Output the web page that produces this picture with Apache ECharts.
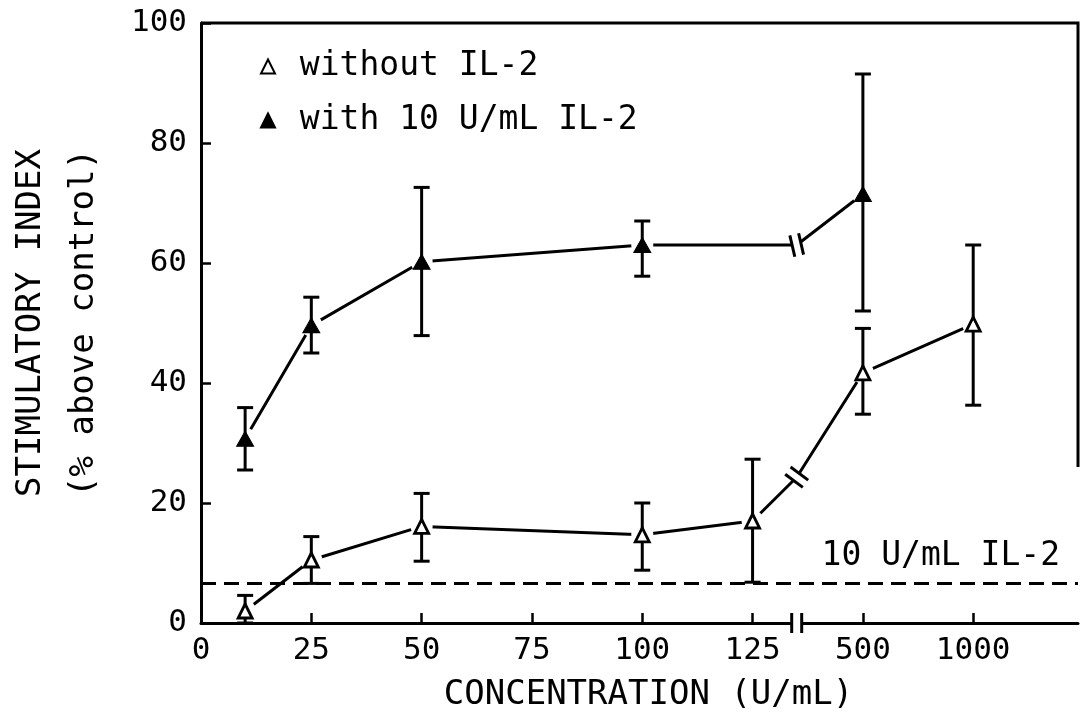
<!DOCTYPE html>
<html>
<head>
<meta charset="utf-8">
<script src="https://cdn.jsdelivr.net/npm/echarts@6/dist/echarts.min.js"></script>
<style>html,body{margin:0;padding:0;background:#fff;}#c{width:1080px;height:719px;}</style>
</head>
<body>
<div id="c"></div>
<script>
// ---- data ----
const tickLabels = ['0', '25', '50', '75', '100', '125', '500', '1000'];
// axis positions (tick index) of the tested concentrations 10,25,50,100,125,500,1000 U/mL
const openPos = [0.4, 1, 2, 4, 5, 6, 7];
const openMean = [2.0, 10.5, 16.1, 14.7, 17.0, 41.7, 49.8];
const openHigh = [4.6, 14.4, 21.6, 20.0, 27.3, 49.1, 63.0];
const openLow = [0, 6.6, 10.3, 8.8, 6.8, 34.8, 36.3];

// concentrations 10,25,50,100,500 U/mL
const filledPos = [0.4, 1, 2, 4, 6];
const filledMean = [30.7, 49.6, 60.2, 63.0, 71.5];
const filledHigh = [35.9, 54.3, 72.6, 67.0, 91.5];
const filledLow = [25.5, 45.0, 47.9, 57.8, 52.0];

// axis break (between 125 and 500) and the line vertices drawn at the break
const breakPos = 5.4;
const openBreakY = 24.3;
const filledBreakY = 63.0;

const il2OnlyLevel = 6.6; // 10 U/mL IL-2 alone
const xMax = 7.95;
const rightBorderEnd = 26;

// ---- build ----
const FONT = 'DejaVu Sans Mono';
const openLine = openPos.map((x, i) => [x, openMean[i]]);
openLine.splice(5, 0, [breakPos, openBreakY]);
const filledLine = filledPos.map((x, i) => [x, filledMean[i]]);
filledLine.splice(4, 0, [breakPos, filledBreakY]);

const openPts = openPos.map((x, i) => [x, openMean[i]]);
const filledPts = filledPos.map((x, i) => [x, filledMean[i]]);
const errData = openPos.map((x, i) => [x, openLow[i], openHigh[i]])
  .concat(filledPos.map((x, i) => [x, filledLow[i], filledHigh[i]]));

const lineBreaks = [
  { pt: [breakPos, openBreakY], prev: openPts[4], next: openPts[5] },
  { pt: [breakPos, filledBreakY], prev: filledPts[3], next: filledPts[4] }
];

const BLACK = '#000';
const LW = 3;
const chart = echarts.init(document.getElementById('c'), null, { renderer: 'canvas' });

function errRender(params, api) {
  const x = api.value(0), lo = api.value(1), hi = api.value(2);
  const a = api.coord([x, lo]), b = api.coord([x, hi]);
  const c = 8;
  const st = { stroke: BLACK, lineWidth: LW };
  return { type: 'group', children: [
    { type: 'line', shape: { x1: a[0], y1: a[1], x2: b[0], y2: b[1] }, style: st },
    { type: 'line', shape: { x1: b[0] - c, y1: b[1], x2: b[0] + c, y2: b[1] }, style: st },
    { type: 'line', shape: { x1: a[0] - c, y1: a[1], x2: a[0] + c, y2: a[1] }, style: st }
  ]};
}

function lineBreakRender(params, api) {
  const d = lineBreaks[params.dataIndex];
  const p = api.coord(d.pt), p0 = api.coord(d.prev), p1 = api.coord(d.next);
  let dx = p1[0] - p0[0], dy = p1[1] - p0[1];
  const L = Math.hypot(dx, dy); dx /= L; dy /= L;
  const nx = -dy, ny = dx;
  const g = 4.5, h = 11;
  const st = { stroke: BLACK, lineWidth: LW };
  return { type: 'group', children: [
    { type: 'polygon', shape: { points: [
      [p[0] - dx * g + nx * 4, p[1] - dy * g + ny * 4],
      [p[0] + dx * g + nx * 4, p[1] + dy * g + ny * 4],
      [p[0] + dx * g - nx * 4, p[1] + dy * g - ny * 4],
      [p[0] - dx * g - nx * 4, p[1] - dy * g - ny * 4]] }, style: { fill: '#fff' } },
    { type: 'line', shape: { x1: p[0] - dx * g - nx * h, y1: p[1] - dy * g - ny * h, x2: p[0] - dx * g + nx * h, y2: p[1] - dy * g + ny * h }, style: st },
    { type: 'line', shape: { x1: p[0] + dx * g - nx * h, y1: p[1] + dy * g - ny * h, x2: p[0] + dx * g + nx * h, y2: p[1] + dy * g + ny * h }, style: st }
  ]};
}

function axisBreakRender(params, api) {
  const p = api.coord([breakPos, 0]);
  const st = { stroke: BLACK, lineWidth: LW };
  return { type: 'group', children: [
    { type: 'rect', shape: { x: p[0] - 5, y: p[1] - 3, width: 10, height: 6 }, style: { fill: '#fff' } },
    { type: 'line', shape: { x1: p[0] - 5, y1: p[1] - 10, x2: p[0] - 5, y2: p[1] + 10 }, style: st },
    { type: 'line', shape: { x1: p[0] + 5, y1: p[1] - 10, x2: p[0] + 5, y2: p[1] + 10 }, style: st }
  ]};
}

function frameRender(params, api) {
  const a = api.coord([0, 100]), b = api.coord([xMax, 100]), c = api.coord([xMax, rightBorderEnd]);
  return { type: 'polyline', shape: { points: [a, b, c] }, style: { stroke: BLACK, lineWidth: 3, fill: null } };
}

const option = {
  animation: false,
  backgroundColor: '#fff',
  grid: { left: 201, right: 2, top: 23, bottom: 96, containLabel: false, outerBoundsMode: 'none' },
  legend: {
    orient: 'vertical', left: 255, top: 45,
    itemWidth: 14, itemHeight: 14, itemGap: 21,
    data: ['without IL-2', 'with 10 U/mL IL-2'],
    formatter: n => ' ' + n,
    textStyle: { fontFamily: FONT, fontSize: 33, lineHeight: 33, color: BLACK }
  },
  xAxis: {
    type: 'value', min: 0, max: xMax, interval: 1,
    name: 'CONCENTRATION (U/mL)', nameLocation: 'middle', nameGap: 55,
    nameTextStyle: { fontFamily: FONT, fontSize: 34, color: BLACK, padding: [0, 0, 0, 18] },
    axisLine: { lineStyle: { color: BLACK, width: 3 } },
    axisTick: { inside: true, length: 10, lineStyle: { color: BLACK, width: 2.5 }, customValues: [1, 2, 3, 4, 5, 6, 7] },
    axisLabel: { fontFamily: FONT, fontSize: 31, color: BLACK, margin: 12,
      customValues: [0, 1, 2, 3, 4, 5, 6, 7], formatter: v => tickLabels[Math.round(v)] },
    splitLine: { show: false }
  },
  yAxis: {
    type: 'value', min: 0, max: 100, interval: 20,
    name: 'STIMULATORY INDEX\n(% above control)', nameLocation: 'middle', nameGap: 90, nameRotate: 90,
    nameTextStyle: { fontFamily: FONT, fontSize: 34, lineHeight: 53, color: BLACK },
    axisLine: { show: true, lineStyle: { color: BLACK, width: 3 } },
    axisTick: { show: true, inside: true, length: 10, lineStyle: { color: BLACK, width: 2.5 } },
    axisLabel: { fontFamily: FONT, fontSize: 31, color: BLACK, margin: 14 },
    splitLine: { show: false }
  },
  series: [
    { type: 'custom', name: 'frame', renderItem: frameRender, data: [[0, 100]], clip: false, silent: true, z: 1 },
    { type: 'line', name: 'line-open', data: openLine, symbol: 'none', z: 2, silent: true,
      lineStyle: { color: BLACK, width: LW },
      markLine: { symbol: 'none', silent: true, data: [{ yAxis: il2OnlyLevel }],
        lineStyle: { type: [15, 8], color: BLACK, width: LW },
        label: { show: true, position: 'insideEndTop', formatter: '10 U/mL IL-2', distance: [18, 10],
          fontFamily: FONT, fontSize: 33, color: BLACK } } },
    { type: 'line', name: 'line-filled', data: filledLine, symbol: 'none', z: 2, silent: true,
      lineStyle: { color: BLACK, width: LW } },
    { type: 'scatter', name: 'halo', data: openPts.concat(filledPts), symbol: 'circle', symbolSize: 22,
      itemStyle: { color: '#fff', opacity: 1 }, z: 3, silent: true },
    { type: 'custom', name: 'errors', renderItem: errRender, data: errData, encode: { x: 0, y: [1, 2] }, z: 4, silent: true },
    { type: 'custom', name: 'line-breaks', renderItem: lineBreakRender, data: lineBreaks.map(d => d.pt), z: 4, silent: true, clip: false },
    { type: 'custom', name: 'axis-break', renderItem: axisBreakRender, data: [[breakPos, 0]], z: 4, silent: true, clip: false },
    { type: 'scatter', name: 'without IL-2', data: openPts, symbol: 'triangle', symbolSize: [14, 14], z: 5,
      itemStyle: { color: '#fff', borderColor: BLACK, borderWidth: 2.8, opacity: 1 } },
    { type: 'scatter', name: 'with 10 U/mL IL-2', data: filledPts, symbol: 'triangle', symbolSize: [17, 15], z: 5,
      itemStyle: { color: BLACK, borderColor: BLACK, borderWidth: 1, opacity: 1 } }
  ]
};
chart.setOption(option);
</script>
</body>
</html>
